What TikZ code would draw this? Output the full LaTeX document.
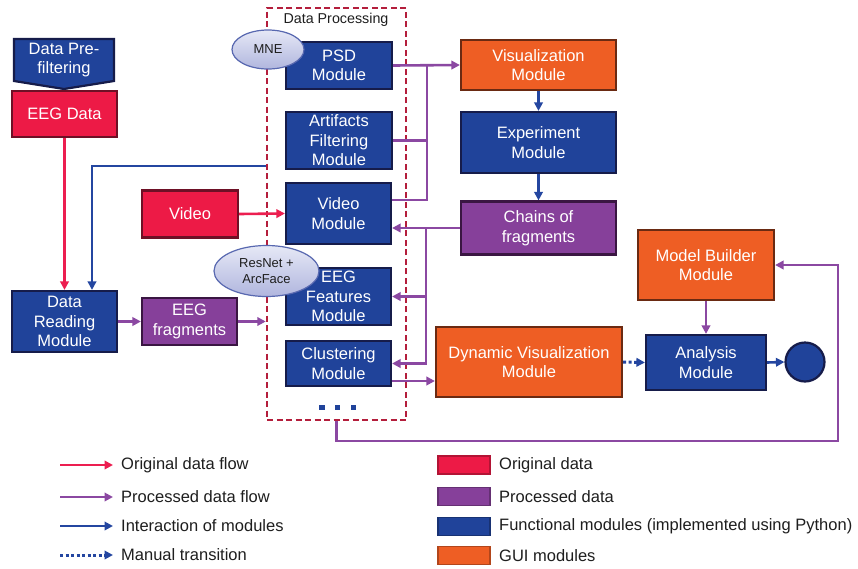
\documentclass[tikz,border=0pt]{standalone}
\usepackage{fontspec}
\setmainfont{Liberation Sans}
\usetikzlibrary{arrows.meta,shapes.geometric}

\definecolor{origfill}{RGB}{237,26,70}
\definecolor{origedge}{RGB}{110,16,38}
\definecolor{procfill}{RGB}{134,64,154}
\definecolor{procedge}{RGB}{58,22,66}
\definecolor{funcfill}{RGB}{32,67,154}
\definecolor{funcedge}{RGB}{22,28,74}
\definecolor{guifill}{RGB}{238,94,36}
\definecolor{guiedge}{RGB}{106,42,18}
\definecolor{redline}{RGB}{236,30,80}
\definecolor{purpline}{RGB}{139,72,162}
\definecolor{blueline}{RGB}{36,70,160}
\definecolor{dpred}{RGB}{180,30,60}
\definecolor{elledge}{RGB}{88,104,176}
\definecolor{elltop}{RGB}{230,232,246}
\definecolor{ellbot}{RGB}{176,182,222}
\definecolor{txtdark}{RGB}{30,30,30}

\begin{document}
\begin{tikzpicture}[x=1pt,y=-1pt,
  boxtext/.style={text=white, align=center, font=\fontsize{16.5}{19.5}\selectfont,
    inner sep=0pt, line width=2.2pt},
  origbox/.style={boxtext, fill=origfill, draw=origedge},
  procbox/.style={boxtext, fill=procfill, draw=procedge},
  funcbox/.style={boxtext, fill=funcfill, draw=funcedge},
  guibox/.style={boxtext, fill=guifill, draw=guiedge},
  toolell/.style={ellipse, draw=elledge, line width=1.2pt, top color=elltop,
    bottom color=ellbot, text=txtdark, align=center, inner sep=0pt,
    font=\fontsize{13}{16}\selectfont},
  tip/.style={-{Triangle[length=8.5pt,width=8.5pt]}},
  oflow/.style={tip, draw=redline, line width=2.6pt},
  pflow/.style={tip, draw=purpline, line width=2.6pt},
  pline/.style={draw=purpline, line width=2.6pt},
  iflow/.style={tip, draw=blueline, line width=2.6pt},
  mflow/.style={tip, draw=blueline, line width=3pt, dash pattern=on 3pt off 2.5pt},
  legtext/.style={anchor=west, text=txtdark, inner sep=0pt,
    font=\fontsize{16.5}{19}\selectfont},
  swatch/.style={minimum width=52pt, minimum height=18pt, inner sep=0pt, line width=1.8pt}
]
\useasboundingbox[fill=white] (0,0) rectangle (858,568);

% Data processing group
\node[draw=dpred, line width=2.5pt, dash pattern=on 6pt off 3.5pt,
      minimum width=139pt, minimum height=412pt, inner sep=0pt] (dp) at (336.5,214) {};
\node[text=txtdark, font=\fontsize{14.3}{16}\selectfont, inner sep=0pt] (dptitle) at (336,20) {Data Processing};

% processing modules
\node[funcbox, minimum width=106pt, minimum height=47pt] (psd) at (339,65.5) {PSD\\Module};
\node[toolell, minimum width=72pt, minimum height=39pt] (mne) at (268,49.5) {MNE};
\node[funcbox, minimum width=106pt, minimum height=57pt] (art) at (339,140.5) {Artifacts\\Filtering\\Module};
\node[funcbox, minimum width=105pt, minimum height=61pt] (vm) at (338.5,213.5) {Video\\Module};
\node[funcbox, minimum width=105pt, minimum height=57pt] (feat) at (338.5,296.5) {EEG\\Features\\Module};
\node[toolell, minimum width=105pt, minimum height=51pt] (resnet) at (266.5,271) {ResNet +\\ArcFace};
\node[funcbox, minimum width=105pt, minimum height=45pt] (clust) at (338.5,363.5) {Clustering\\Module};

% ellipsis marks below the modules
\foreach \cx in {322,337.5,353.5}
  \fill[funcfill] (\cx-2.7,405) rectangle (\cx+2.7,410.4);

% inputs on the left
\path[fill=funcfill, draw=funcedge, line width=2.2pt]
  (14,39) -- (114,39) -- (114,81) -- (64,89) -- (14,81) -- cycle;
\node[text=white, align=center, font=\fontsize{16.5}{19.5}\selectfont, inner sep=0pt]
  (pre) at (64,60) {Data Pre-\\filtering};
\node[origbox, minimum width=105pt, minimum height=46pt] (eeg) at (64.5,114) {EEG Data};
\node[origbox, minimum width=96pt, minimum height=47pt] (vid) at (190,214) {Video};
\node[funcbox, minimum width=105pt, minimum height=61pt] (dr) at (64.5,321.5) {Data\\Reading\\Module};
\node[procbox, minimum width=95pt, minimum height=47pt] (frag) at (189.5,321.5) {EEG\\fragments};

% right column
\node[guibox, minimum width=155pt, minimum height=50pt] (vis) at (538.5,65) {Visualization\\Module};
\node[funcbox, minimum width=155pt, minimum height=61pt] (exp) at (538.5,142.5) {Experiment\\Module};
\node[procbox, minimum width=155pt, minimum height=53pt] (chains) at (538.5,228) {Chains of\\fragments};
\node[guibox, minimum width=136pt, minimum height=70pt] (mb) at (706,265) {Model Builder\\Module};
\node[guibox, minimum width=186pt, minimum height=70pt] (dyn) at (529,362) {Dynamic Visualization\\Module};
\node[funcbox, minimum width=120pt, minimum height=55pt] (ana) at (706,362.5) {Analysis\\Module};
\node[circle, fill=funcfill, draw=funcedge, line width=2.2pt, minimum size=39pt, inner sep=0pt] (circ) at (805,362) {};

% original data flow
\draw[oflow] (eeg.south) -- (dr.north);
\draw[oflow] (vid.east) -- (vm.west);

% interaction from the processing group back to data reading
\draw[iflow] ([yshift=48pt]dp.west) -| ([xshift=27.5pt]dr.north);

% processed data into the processing group
\draw[pflow] (dr.east) -- (frag.west);
\draw[pflow] (frag.east) -- (frag.east -| dp.west);

% processed data towards visualization
\coordinate (j1) at (427,65);
\coordinate (j2) at (427,200);
\draw[pflow] (psd.east) -- (vis.west);
\draw[pline] (art.east) -| (j1);
\draw[pline] (j2 -| vm.east) -- (j2) -- (j1);

% module interaction chain
\draw[iflow] (vis.south) -- (exp.north);
\draw[iflow] (exp.south) -- (chains.north);

% chains of fragments fed back to the processing modules
\coordinate (j3) at (426,228);
\draw[pflow] (chains.west) -- (chains.west -| vm.east);
\draw[pflow] (j3) |- (clust.east);
\draw[pflow] (j3 |- feat.east) -- (feat.east);

% clustering to dynamic visualization and analysis
\draw[pflow] ([yshift=-17.5pt]clust.east) -- ([yshift=-17.5pt]clust.east -| dyn.west);
\draw[mflow] (dyn.east) -- (ana.west);
\draw[pflow] (mb.south) -- (ana.north);
\draw[iflow] (ana.east) -- (circ.west);

% feedback from the processing group to the model builder
\coordinate (fbc) at (838,441);
\draw[pflow] (dp.south) |- (fbc) |- (mb.east);

% legend: connectors
\node[legtext] (l1) at (121,465) {Original data flow};
\node[legtext] (l2) at (121,497) {Processed data flow};
\node[legtext] (l3) at (121,526) {Interaction of modules};
\node[legtext] (l4) at (121,555) {Manual transition};
\draw[oflow] ([xshift=-61pt]l1.west) -- ([xshift=-8pt]l1.west);
\draw[pflow] ([xshift=-61pt]l2.west) -- ([xshift=-8pt]l2.west);
\draw[iflow] ([xshift=-61pt]l3.west) -- ([xshift=-8pt]l3.west);
\draw[mflow] ([xshift=-61pt]l4.west) -- ([xshift=-8pt]l4.west);

% legend: box kinds
\node[swatch, fill=origfill, draw=origfill!75!black] (s1) at (464,465) {};
\node[swatch, fill=procfill, draw=procfill!75!black] (s2) at (464,496.5) {};
\node[swatch, fill=funcfill, draw=funcfill!75!black] (s3) at (464,526.5) {};
\node[swatch, fill=guifill, draw=guifill!75!black] (s4) at (464,555.5) {};
\node[legtext] (t1) at (499,465) {Original data};
\node[legtext] (t2) at (499,496.5) {Processed data};
\node[legtext] (t3) at (499,526.5) {Functional modules (implemented using Python)};
\node[legtext] (t4) at (499,555.5) {GUI modules};
\end{tikzpicture}
\end{document}
